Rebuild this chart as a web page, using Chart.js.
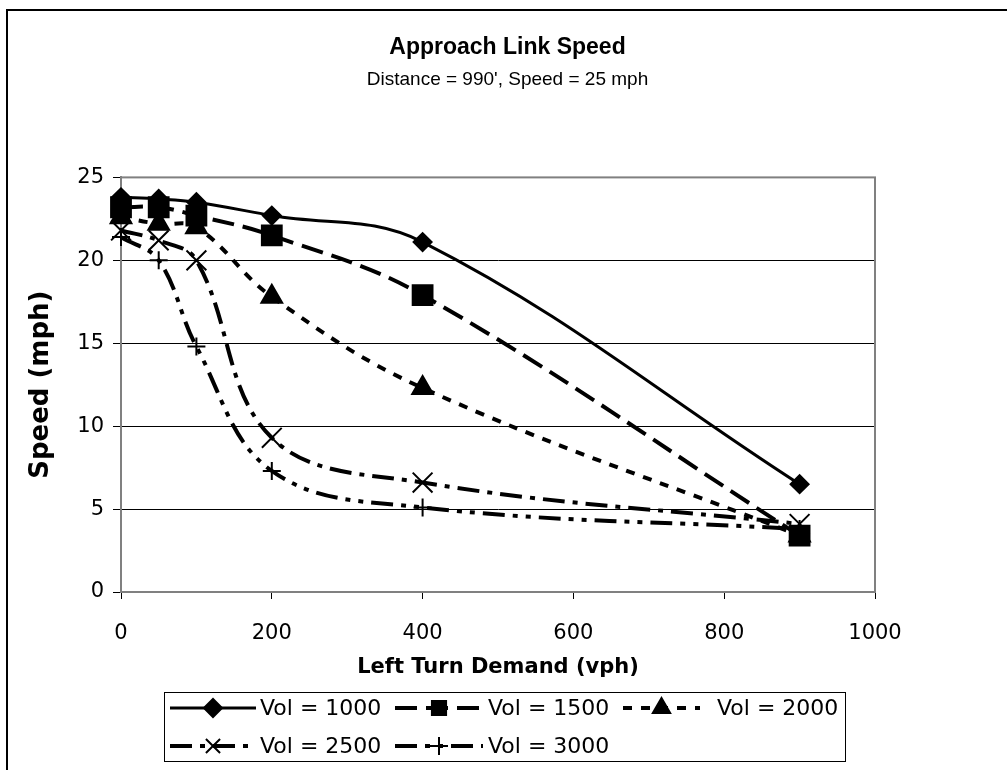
<!DOCTYPE html>
<html>
<head>
<meta charset="utf-8">
<title>Approach Link Speed</title>
<script src="https://cdn.jsdelivr.net/npm/chart.js@4/dist/chart.umd.min.js"></script>
<style>
  html, body { margin: 0; padding: 0; background: #fff; }
  #wrap { position: relative; width: 1007px; height: 770px; }
</style>
</head>
<body>
<div id="wrap"><canvas id="speedChart"></canvas></div>
<script>
// left turn demand (vph) on the x axis
const demand = [0, 50, 100, 200, 400, 900];
const seriesNames = ['Vol = 1000', 'Vol = 1500', 'Vol = 2000', 'Vol = 2500', 'Vol = 3000'];
// speed (mph) for each through volume
const vol1000 = [23.8, 23.7, 23.5, 22.7, 21.1, 6.5];
const vol1500 = [23.2, 23.2, 22.7, 21.5, 17.9, 3.4];
const vol2000 = [22.6, 22.2, 22.0, 17.8, 12.3, 3.4];
const vol2500 = [21.8, 21.2, 20.0, 9.3, 6.6, 4.1];
const vol3000 = [21.4, 20.0, 14.8, 7.3, 5.1, 3.8];
const xTicks = [0, 200, 400, 600, 800, 1000];
const yTicks = [0, 5, 10, 15, 20, 25];

const FONT = 'DejaVu Sans';
const TITLE_FONT = 'Liberation Sans';

// marker + line style per series (same order as seriesNames)
const styles = [
  { pointStyle: 'rectRot',  radius: 9,  dash: [],                 width: 3 },
  { pointStyle: 'rect',     radius: 14, dash: [22, 9],            width: 4 },
  { pointStyle: 'triangle', radius: 12, dash: [9, 9],             width: 4 },
  { pointStyle: 'crossRot', radius: 14, dash: [22, 8, 5, 8],      width: 4 },
  { pointStyle: 'cross',    radius: 9,  dash: [22, 8, 5, 8, 5, 8], width: 4 }
];
const values = [vol1000, vol1500, vol2000, vol2500, vol3000];

const datasets = values.map((vals, i) => ({
  label: seriesNames[i],
  data: demand.map((x, j) => ({ x: x, y: vals[j] })),
  borderColor: '#000',
  backgroundColor: '#000',
  borderWidth: styles[i].width,
  borderDash: styles[i].dash,
  pointStyle: styles[i].pointStyle,
  pointRadius: styles[i].radius,
  pointBorderWidth: 2,
  pointBackgroundColor: '#000',
  pointBorderColor: '#000',
  tension: 0.38,
  clip: false
}));

// outer frame (only top and left edge visible in the picture)
const framePlugin = {
  id: 'frame',
  beforeDraw(chart) {
    const ctx = chart.ctx;
    ctx.save();
    ctx.fillStyle = '#fff';
    ctx.fillRect(0, 0, chart.width, chart.height);
    ctx.strokeStyle = '#000';
    ctx.lineWidth = 2;
    ctx.beginPath();
    ctx.moveTo(7, chart.height);
    ctx.lineTo(7, 10);
    ctx.lineTo(chart.width, 10);
    ctx.stroke();
    ctx.restore();
  }
};

// grey border round the plot area
const plotBorder = {
  id: 'plotBorder',
  beforeDatasetsDraw(chart) {
    const a = chart.chartArea, ctx = chart.ctx;
    ctx.save();
    ctx.strokeStyle = '#808080';
    ctx.lineWidth = 2;
    ctx.strokeRect(a.left, a.top, a.right - a.left, a.bottom - a.top);
    ctx.restore();
  }
};

// excel style legend box under the axis title
const boxLegend = {
  id: 'boxLegend',
  afterDraw(chart) {
    const ctx = chart.ctx;
    const box = { left: 164, top: 692, right: 845, bottom: 761 };
    const rows = [708, 746];
    const cols = [
      { x0: 170, x1: 256, tx: 260 },
      { x0: 395, x1: 483, tx: 488 },
      { x0: 623, x1: 700, tx: 717 }
    ];
    ctx.save();
    ctx.strokeStyle = '#000';
    ctx.lineWidth = 1;
    ctx.strokeRect(box.left + 0.5, box.top + 0.5, box.right - box.left, box.bottom - box.top);
    chart.data.datasets.forEach((ds, i) => {
      const c = cols[i % 3], y = rows[Math.floor(i / 3)];
      const cx = (c.x0 + c.x1) / 2;
      ctx.strokeStyle = '#000';
      ctx.fillStyle = '#000';
      ctx.lineWidth = ds.borderWidth;
      ctx.setLineDash(ds.borderDash);
      ctx.beginPath();
      ctx.moveTo(c.x0, y);
      ctx.lineTo(c.x1, y);
      ctx.stroke();
      ctx.setLineDash([]);
      ctx.lineWidth = ds.pointBorderWidth;
      Chart.helpers.drawPoint(ctx, {
        pointStyle: ds.pointStyle,
        radius: Math.min(ds.pointRadius, 10),
        rotation: 0,
        borderWidth: ds.pointBorderWidth
      }, cx, y);
      ctx.font = '22px "' + FONT + '"';
      ctx.textBaseline = 'middle';
      ctx.textAlign = 'left';
      ctx.fillText(ds.label, c.tx, y + 1);
    });
    ctx.restore();
  }
};

new Chart(document.getElementById('speedChart'), {
  type: 'line',
  data: { datasets: datasets },
  options: {
    responsive: true,
    maintainAspectRatio: false,
    animation: false,
    layout: { padding: { left: 8, top: 10, right: 0, bottom: 80 } },
    plugins: {
      legend: { display: false },
      tooltip: { enabled: false },
      title: {
        display: true,
        text: 'Approach Link Speed',
        color: '#000',
        font: { family: TITLE_FONT, size: 23, weight: 'bold' },
        padding: { top: 24, bottom: 5 }
      },
      subtitle: {
        display: true,
        text: "Distance = 990', Speed = 25 mph",
        color: '#000',
        font: { family: TITLE_FONT, size: 19 },
        padding: { top: 2, bottom: 86 }
      }
    },
    scales: {
      x: {
        type: 'linear',
        min: 0,
        max: 1000,
        afterBuildTicks: s => { s.ticks = xTicks.map(v => ({ value: v })); },
        afterFit: s => { s.height = 98; },
        grid: { drawOnChartArea: false, drawTicks: true, tickLength: 7, color: '#000', lineWidth: 1 },
        border: { display: true, color: '#808080', width: 2 },
        ticks: {
          color: '#000', padding: 22, maxRotation: 0,
          font: { family: FONT, size: 21 },
          callback: v => String(v)
        },
        title: {
          display: true,
          text: 'Left Turn Demand (vph)',
          color: '#000',
          font: { family: FONT, size: 21, weight: 'bold' },
          padding: { top: 0, bottom: 10 }
        }
      },
      y: {
        min: 0,
        max: 25,
        afterBuildTicks: s => { s.ticks = yTicks.map(v => ({ value: v })); },
        afterFit: s => { s.width = 113; },
        grid: { color: '#000', lineWidth: 1, tickLength: 8, drawTicks: true },
        border: { display: true, color: '#808080', width: 2 },
        ticks: { color: '#000', padding: 9, font: { family: FONT, size: 21 } },
        title: {
          display: true,
          text: 'Speed (mph)',
          color: '#000',
          font: { family: FONT, size: 26, weight: 'bold' },
          padding: { top: 18, bottom: 0 }
        }
      },
      // empty spacer on the right so the plot ends at the same place as the picture
      spacer: {
        type: 'linear',
        position: 'right',
        display: true,
        afterFit: s => { s.width = 132; },
        grid: { display: false },
        border: { display: false },
        ticks: { display: false }
      }
    }
  },
  plugins: [framePlugin, plotBorder, boxLegend]
});
</script>
</body>
</html>
